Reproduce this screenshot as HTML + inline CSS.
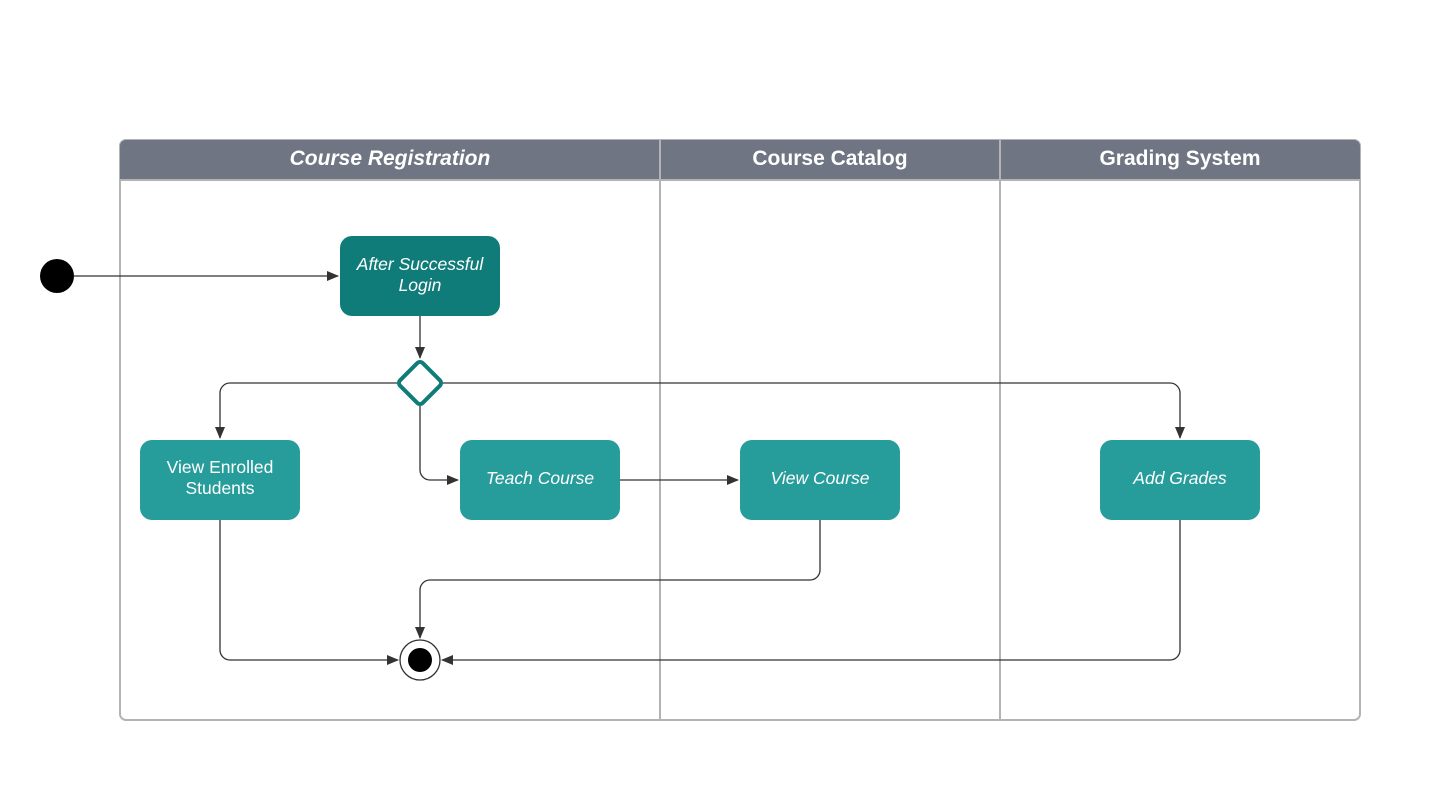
<!DOCTYPE html>
<html><head><style>body{margin:0;background:#fff}svg{display:block}</style></head><body>
<svg width="1440" height="800" xmlns="http://www.w3.org/2000/svg" font-family="Liberation Sans, Arial, sans-serif">
<defs><marker id="a" markerWidth="12" markerHeight="10" refX="11" refY="5" orient="auto" markerUnits="userSpaceOnUse"><path d="M0,0 L12,5 L0,10 z" fill="#333"/></marker></defs>
<rect x="120" y="140" width="1240" height="580" rx="6" fill="#fff" stroke="#b3b3b3" stroke-width="2"/>
<path d="M120,180 V146 a6,6 0 0 1 6,-6 H1354 a6,6 0 0 1 6,6 V180 z" fill="#6f7583"/>
<line x1="120" y1="180" x2="1360" y2="180" stroke="#b3b3b3" stroke-width="2"/>
<line x1="660" y1="140" x2="660" y2="720" stroke="#b3b3b3" stroke-width="2"/>
<line x1="1000" y1="140" x2="1000" y2="720" stroke="#b3b3b3" stroke-width="2"/>
<g fill="#fff" font-weight="bold" font-size="21" text-anchor="middle">
<text x="390" y="165" font-style="italic">Course Registration</text>
<text x="830" y="165">Course Catalog</text>
<text x="1180" y="165">Grading System</text></g>
<g fill="none" stroke="#333" stroke-width="1.3">
<line x1="74" y1="276" x2="338" y2="276" marker-end="url(#a)"/>
<line x1="420" y1="316" x2="420" y2="358" marker-end="url(#a)"/>
<path d="M398,383 H230 a10,10 0 0 0 -10,10 V438" marker-end="url(#a)"/>
<path d="M442,383 H1170 a10,10 0 0 1 10,10 V438" marker-end="url(#a)"/>
<path d="M420,405 V470 a10,10 0 0 0 10,10 H458" marker-end="url(#a)"/>
<line x1="620" y1="480" x2="738" y2="480" marker-end="url(#a)"/>
<path d="M820,520 V570 a10,10 0 0 1 -10,10 H430 a10,10 0 0 0 -10,10 V638" marker-end="url(#a)"/>
<path d="M220,520 V650 a10,10 0 0 0 10,10 H398" marker-end="url(#a)"/>
<path d="M1180,520 V650 a10,10 0 0 1 -10,10 H442" marker-end="url(#a)"/>
</g>
<circle cx="57" cy="276" r="17" fill="#000"/>
<circle cx="420" cy="660" r="20" fill="#fff" stroke="#333" stroke-width="1.3"/>
<circle cx="420" cy="660" r="12" fill="#000"/>
<rect x="404" y="367" width="32" height="32" rx="4" transform="rotate(45 420 383)" fill="#fff" stroke="#107c79" stroke-width="4"/>
<rect x="340" y="236" width="160" height="80" rx="12" fill="#107c79"/>
<rect x="140" y="440" width="160" height="80" rx="12" fill="#269c9b"/>
<rect x="460" y="440" width="160" height="80" rx="12" fill="#269c9b"/>
<rect x="740" y="440" width="160" height="80" rx="12" fill="#269c9b"/>
<rect x="1100" y="440" width="160" height="80" rx="12" fill="#269c9b"/>
<g fill="#fff" font-size="17.5" text-anchor="middle">
<text x="420" y="270" font-style="italic">After Successful</text>
<text x="420" y="291" font-style="italic">Login</text>
<text x="220" y="473">View Enrolled</text>
<text x="220" y="494">Students</text>
<text x="540" y="484" font-style="italic">Teach Course</text>
<text x="820" y="484" font-style="italic">View Course</text>
<text x="1180" y="484" font-style="italic">Add Grades</text>
</g>
</svg>
</body></html>
